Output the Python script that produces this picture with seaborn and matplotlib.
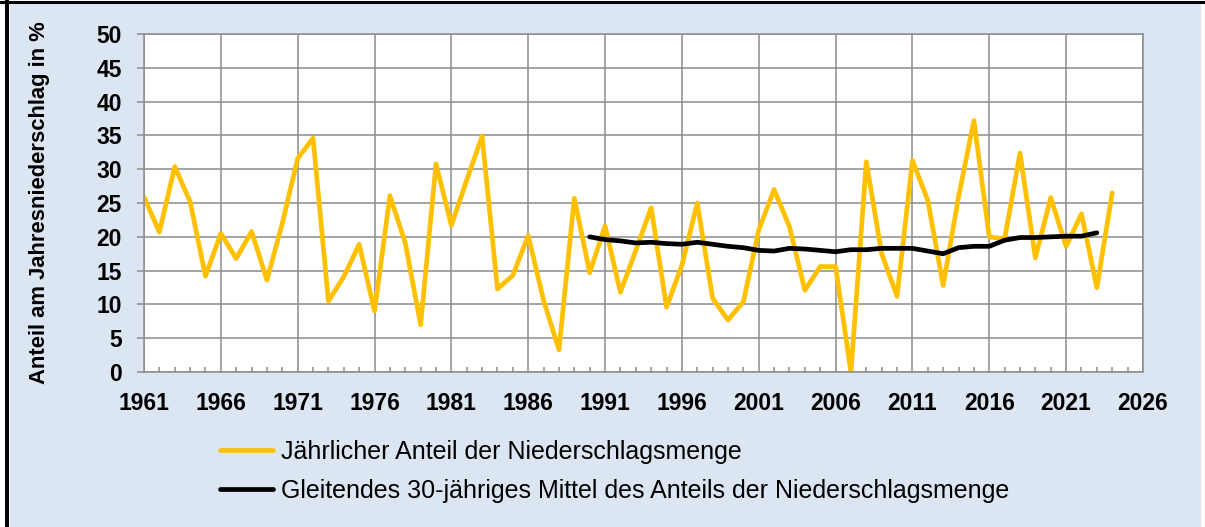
import pandas as pd
import matplotlib.pyplot as plt
import seaborn as sns
from matplotlib.patches import Rectangle
from matplotlib.lines import Line2D
from matplotlib.ticker import MultipleLocator

years = list(range(1961, 2025))
annual_share = [
    25.9, 20.7, 30.4, 25.2, 14.2, 20.5, 16.8, 20.8, 13.6, 22.0,
    31.6, 34.6, 10.5, 14.1, 18.9, 9.0, 26.1, 19.1, 7.0, 30.8,
    21.7, 28.4, 34.9, 12.3, 14.3, 20.2, 10.6, 3.3, 25.7, 14.7,
    21.6, 11.8, 18.0, 24.3, 9.6, 15.8, 25.0, 10.9, 7.7, 10.4,
    21.0, 27.0, 21.5, 12.1, 15.6, 15.6, 0.0, 31.1, 17.5, 11.2,
    31.3, 25.4, 12.8, 25.9, 37.2, 20.0, 19.7, 32.4, 16.9, 25.8,
    18.6, 23.4, 12.5, 26.5,
]
mean_years = list(range(1990, 2024))
moving_mean = [
    20.0, 19.6, 19.4, 19.1, 19.2, 19.0, 18.9, 19.2, 18.9, 18.6,
    18.4, 18.0, 17.9, 18.3, 18.2, 18.0, 17.8, 18.1, 18.1, 18.3,
    18.3, 18.3, 17.9, 17.5, 18.4, 18.6, 18.6, 19.5, 19.9, 19.9,
    20.0, 20.1, 20.1, 20.6,
]

label_annual = 'Jährlicher Anteil der Niederschlagsmenge'
label_mean = 'Gleitendes 30-jähriges Mittel des Anteils der Niederschlagsmenge'

annual = pd.DataFrame({'Jahr': years, 'Anteil': annual_share})
mean30 = pd.DataFrame({'Jahr': mean_years, 'Anteil': moving_mean})

sns.set_theme(style='white')
plt.rcParams['font.family'] = ['Liberation Sans', 'DejaVu Sans']
plt.rcParams['text.color'] = 'black'
plt.rcParams['axes.labelcolor'] = 'black'
plt.rcParams['xtick.labelcolor'] = 'black'
plt.rcParams['ytick.labelcolor'] = 'black'

bg = '#DCE6F2'
grid_col = '#8C8C8C'

fig = plt.figure(figsize=(12.05, 5.27), dpi=100, facecolor='white')
W, H = 1205, 527

# light blue panel with black edge on top and left (as in the source)
fig.add_artist(Rectangle((10 / W, 0), (1201 - 10) / W, (H - 4) / H,
                         transform=fig.transFigure, facecolor=bg,
                         edgecolor='none', zorder=-2))
fig.add_artist(Line2D([0, 1], [1 - 1.5 / H, 1 - 1.5 / H], transform=fig.transFigure,
                      color='black', linewidth=2.2, zorder=-1))
fig.add_artist(Line2D([7 / W, 7 / W], [0, 1], transform=fig.transFigure,
                      color='black', linewidth=2.9, zorder=-1))

ax = fig.add_axes([0.1195, 0.294, 0.829, 0.6414])
ax.set_facecolor('white')

sns.lineplot(data=annual, x='Jahr', y='Anteil', color='#FFC000', linewidth=3.4,
             label=label_annual, ax=ax)
sns.lineplot(data=mean30, x='Jahr', y='Anteil', color='black', linewidth=3.4,
             label=label_mean, ax=ax)

ax.set_xlim(1961, 2026)
ax.set_ylim(0, 50)
ax.set_xticks(list(range(1961, 2027, 5)))
ax.xaxis.set_minor_locator(MultipleLocator(1))
ax.set_yticks(list(range(0, 51, 5)))
ax.grid(True, which='major', color=grid_col, linewidth=1.1)
ax.set_axisbelow(True)
for s in ax.spines.values():
    s.set_color(grid_col)
    s.set_linewidth(1.1)

ax.tick_params(axis='x', which='major', direction='out', length=5, width=1.1,
               color=grid_col, pad=9, labelsize=16.5, labelcolor='black')
ax.tick_params(axis='x', which='minor', direction='in', length=3.5, width=1.1,
               color=grid_col, bottom=True)
ax.tick_params(axis='y', which='major', direction='out', length=5, width=1.1,
               color=grid_col, pad=11, labelsize=16.5, left=True, labelcolor='black')
for t in ax.get_xticklabels() + ax.get_yticklabels():
    t.set_fontweight('bold')

ax.set_xlabel('')
ax.set_ylabel('Anteil am Jahresniederschlag in %', fontsize=15.8, fontweight='bold',
              color='black')
ax.yaxis.set_label_coords(-0.094, 0.5)

handles, labels = ax.get_legend_handles_labels()
ax.get_legend().remove()
leg = fig.legend(handles, labels, loc='upper left', bbox_to_anchor=(220 / W, 1 - 440 / H),
                 frameon=False, fontsize=18, handlelength=2.1, handletextpad=0.35,
                 labelspacing=0.6, borderaxespad=0, borderpad=0)
for t in leg.get_texts():
    t.set_color('black')

fig.savefig('out.png', dpi=100, facecolor='white')
